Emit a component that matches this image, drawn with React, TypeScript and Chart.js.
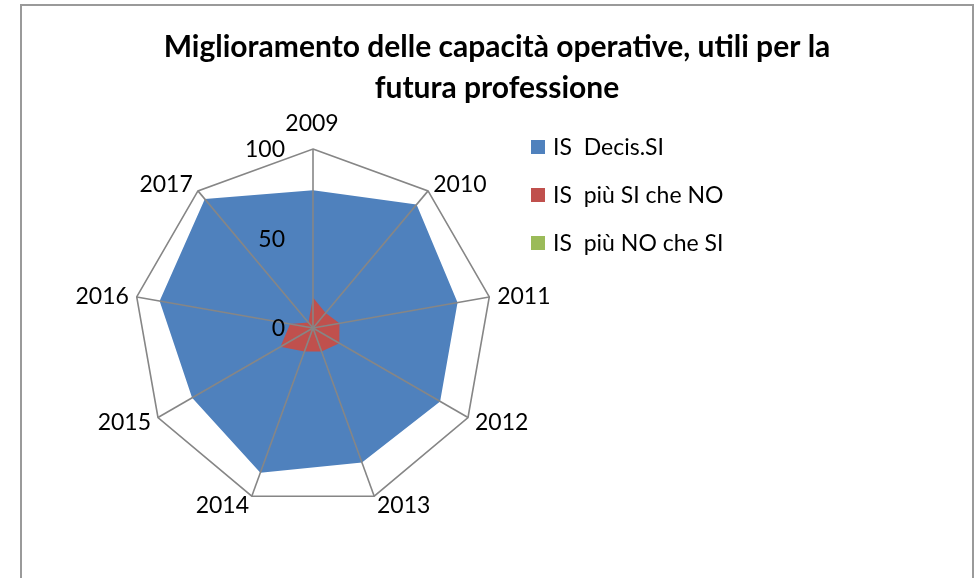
import React, { useEffect, useRef } from "react";
import { Chart, registerables } from "chart.js";

Chart.register(...registerables);

const categories = ["2009", "2010", "2011", "2012", "2013", "2014", "2015", "2016", "2017"];
const decisSi = [77, 90, 82, 82, 80, 86, 78, 87, 94];
const piuSiCheNo = [17, 11, 15, 17, 14, 14, 21, 13, 4];
const piuNoCheSi = [0, 0, 0, 0, 0, 0, 0, 0, 0];
const seriesLabels = ["IS  Decis.SI", "IS  più SI che NO", "IS  più NO che SI"];
const seriesColors = ["#4F81BD", "#C0504D", "#9BBB59"];
const tickValues = [0, 50, 100];
const titleLines = ["Miglioramento delle capacità operative, utili per la", "futura professione"];

const GRID = "#868686";
const FONT = "Lato";

const overlayPlugin = {
  id: "excelOverlay",
  afterDatasetsDraw(chart: any) {
    const s = chart.scales.r;
    const ctx = chart.ctx;
    ctx.save();
    // spokes over the fills
    ctx.strokeStyle = GRID;
    ctx.lineWidth = 1.6;
    for (let i = 0; i < categories.length; i++) {
      const p = s.getPointPosition(i, s.drawingArea);
      ctx.beginPath();
      ctx.moveTo(s.xCenter, s.yCenter);
      ctx.lineTo(p.x, p.y);
      ctx.stroke();
    }
    // tick labels
    ctx.fillStyle = "#000";
    ctx.font = `23px ${FONT}`;
    ctx.textAlign = "right";
    ctx.textBaseline = "middle";
    tickValues.forEach((v) => {
      const d = s.getDistanceFromCenterForValue(v);
      ctx.fillText(String(v), s.xCenter - 28, s.yCenter - d + 1);
    });
    // category labels
    categories.forEach((lab, i) => {
      const a = s.getIndexAngle(i);
      const sin = Math.sin(a);
      const cos = Math.cos(a);
      const p = s.getPointPosition(i, s.drawingArea);
      if (Math.abs(sin) < 0.05) {
        ctx.textAlign = "center";
        ctx.fillText(lab, p.x - 1, p.y - 25 * cos);
      } else {
        ctx.textAlign = sin > 0 ? "left" : "right";
        ctx.fillText(lab, p.x + 8 * sin, p.y - 9 * cos + 1);
      }
    });
    // legend
    ctx.font = `23px ${FONT}`;
    ctx.textAlign = "left";
    chart.data.datasets.forEach((ds: any, i: number) => {
      const y = 141 + 48 * i;
      ctx.fillStyle = ds.backgroundColor;
      ctx.fillRect(509, y - 7, 14, 14);
      ctx.fillStyle = "#000";
      ctx.fillText(ds.label, 531, y + 1);
    });
    ctx.restore();
  },
};

export default function App() {
  const ref = useRef<HTMLCanvasElement>(null);
  useEffect(() => {
    if (!ref.current) return;
    const mk = (label: string, data: number[], color: string, order: number) => ({
      label,
      data,
      backgroundColor: color,
      borderColor: color,
      borderWidth: 0,
      pointRadius: 0,
      fill: true,
      order,
    });
    const chart = new Chart(ref.current, {
      type: "radar",
      data: {
        labels: categories,
        datasets: [
          mk(seriesLabels[0], decisSi, seriesColors[0], 3),
          mk(seriesLabels[1], piuSiCheNo, seriesColors[1], 2),
          mk(seriesLabels[2], piuNoCheSi, seriesColors[2], 1),
        ],
      },
      options: {
        responsive: false,
        animation: false,
        layout: { padding: 0 },
        elements: { line: { tension: 0 } },
        plugins: {
          legend: { display: false },
          tooltip: { enabled: false },
          title: {
            display: true,
            text: titleLines,
            color: "#000",
            font: { family: FONT, size: 30, weight: "bold", lineHeight: 41 / 30 },
            padding: { top: 21, bottom: 0 },
          },
        },
        scales: {
          r: {
            min: 0,
            max: 100,
            ticks: { display: false, stepSize: 50 },
            grid: { color: GRID, lineWidth: 1.6, circular: false },
            angleLines: { display: false },
            pointLabels: { display: false },
            afterSetDimensions: (s: any) => {
              s.xCenter = 291;
              s.yCenter = 322;
              s.drawingArea = 179;
            },
          },
        },
      } as any,
      plugins: [overlayPlugin],
    });
    return () => chart.destroy();
  }, []);
  return (
    <div
      style={{
        position: "fixed",
        left: 20,
        top: 4,
        width: 950,
        height: 640,
        border: "2px solid #9a9a9a",
        background: "#fff",
      }}
    >
      <canvas ref={ref} width={950} height={574} style={{ display: "block" }} />
    </div>
  );
}
